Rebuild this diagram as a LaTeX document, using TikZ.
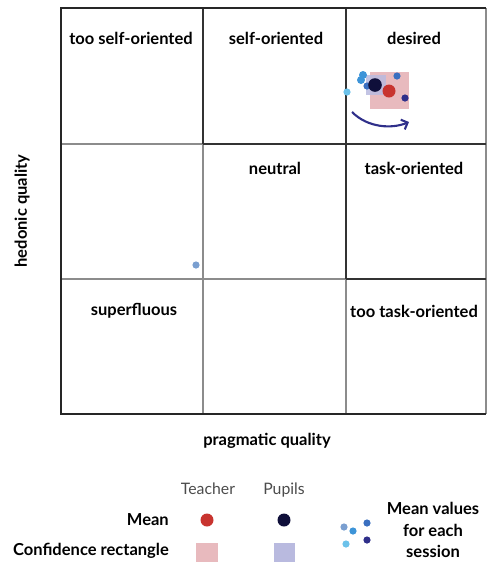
\documentclass[tikz,border=0pt]{standalone}
\usepackage{fontspec}
\usetikzlibrary{arrows.meta}
\setmainfont{Lato}
\definecolor{teachred}{RGB}{200,52,47}
\definecolor{pupilnavy}{RGB}{15,15,58}
\definecolor{teachpink}{RGB}{232,186,190}
\definecolor{pupillav}{RGB}{185,186,223}
\definecolor{sessA}{RGB}{122,159,208}
\definecolor{sessB}{RGB}{61,148,216}
\definecolor{sessC}{RGB}{58,111,192}
\definecolor{sessD}{RGB}{108,194,234}
\definecolor{sessE}{RGB}{47,47,138}
\tikzset{
    zone/.style={font=\fontsize{9.4}{11}\selectfont\bfseries},
    legtext/.style={font=\fontsize{9.4}{11}\selectfont\bfseries},
    headtext/.style={font=\fontsize{9}{11}\selectfont, text=black!70, anchor=base},
    darkline/.style={line width=1pt, black!80},
    greyline/.style={line width=0.8pt, black!45},
}
\begin{document}
\begin{tikzpicture}[x=0.02cm, y=-0.02cm]

    \useasboundingbox (0,0) rectangle (487,562);

    \def\meandot#1#2#3{\fill[#1] #2 circle (#3);}

    %light grid:
    \draw[greyline] (61,144) -- (203,144);
    \draw[greyline] (203,144) -- (203,414);
    \draw[greyline] (61,279) -- (346,279);
    \draw[greyline] (346,279) -- (346,414);
    \draw[greyline] (486,8) -- (486,414);

    %dark grid:
    \draw[darkline] (203,8) -- (203,144);
    \draw[darkline] (203,144) -- (486,144);
    \draw[darkline] (346,8) -- (346,279);
    \draw[darkline] (346,279) -- (486,279);

    %axes:
    \draw[line width=1.6pt, black!85] (486,8) -- (61,8) -- (61,414) -- (486,414);

    %zone names:
    \node[zone] (tooself) at (131,38) {too self-oriented};
    \node[zone] (self) at (276,38) {self-oriented};
    \node[zone] (desired) at (414,38) {desired};
    \node[zone] (neutral) at (275,168) {neutral};
    \node[zone] (task) at (414,168) {task-oriented};
    \node[zone] (superfl) at (134,311) {superfluous};
    \node[zone] (tootask) at (414,311) {too task-oriented};

    %axis names:
    \node[zone, rotate=90] (hedonic) at (22,211) {hedonic quality};
    \node[zone] (pragmatic) at (267,441) {pragmatic quality};

    %confidence rectangles:
    \fill[teachpink] (370,72) rectangle (409,109);
    \fill[pupillav, opacity=0.85] (366,75) rectangle (386,95);

    %session means:
    \meandot{sessB}{(363,75)}{4}
    \meandot{sessB}{(361,80)}{4}
    \meandot{sessC}{(367,86)}{3.6}
    \meandot{sessC}{(397,76)}{3.6}
    \meandot{sessE}{(405,98)}{3.6}
    \meandot{sessD}{(347,92)}{3.6}
    \meandot{sessA}{(196,265)}{3.6}

    %means:
    \meandot{teachred}{(389,91)}{6.5}
    \meandot{pupilnavy}{(375,85)}{6.8}

    %trend arrow:
    \coordinate (trendstart) at (352,112);
    \coordinate (trendend) at (409,122);
    \draw[sessE, line width=1.2pt, -{Straight Barb[length=3pt,width=6pt]}]
        (trendstart) .. controls (368,128) and (392,129) .. (trendend);

    %legend:
    \node[headtext] (teacher) at (208,494) {Teacher};
    \node[headtext] (pupils) at (284,494) {Pupils};
    \node[legtext, anchor=east] (mean) at (175,520) {Mean};
    \node[legtext, anchor=east] (conf) at (175,551) {Confidence rectangle};
    \meandot{teachred}{(207,520)}{6.5}
    \meandot{pupilnavy}{(284,520)}{6.5}
    \fill[teachpink] (196,543) rectangle (218,562);
    \fill[pupillav] (274,543) rectangle (295,562);

    \meandot{sessA}{(344,527)}{3.6}
    \meandot{sessB}{(353,531)}{3.6}
    \meandot{sessC}{(367,523)}{3.6}
    \meandot{sessD}{(346,544)}{3.6}
    \meandot{sessE}{(367,540)}{3.6}
    \node[legtext, align=center] (sessions) at (433,530) {Mean values\\[1pt]for each\\[1pt]session};

\end{tikzpicture}
\end{document}
